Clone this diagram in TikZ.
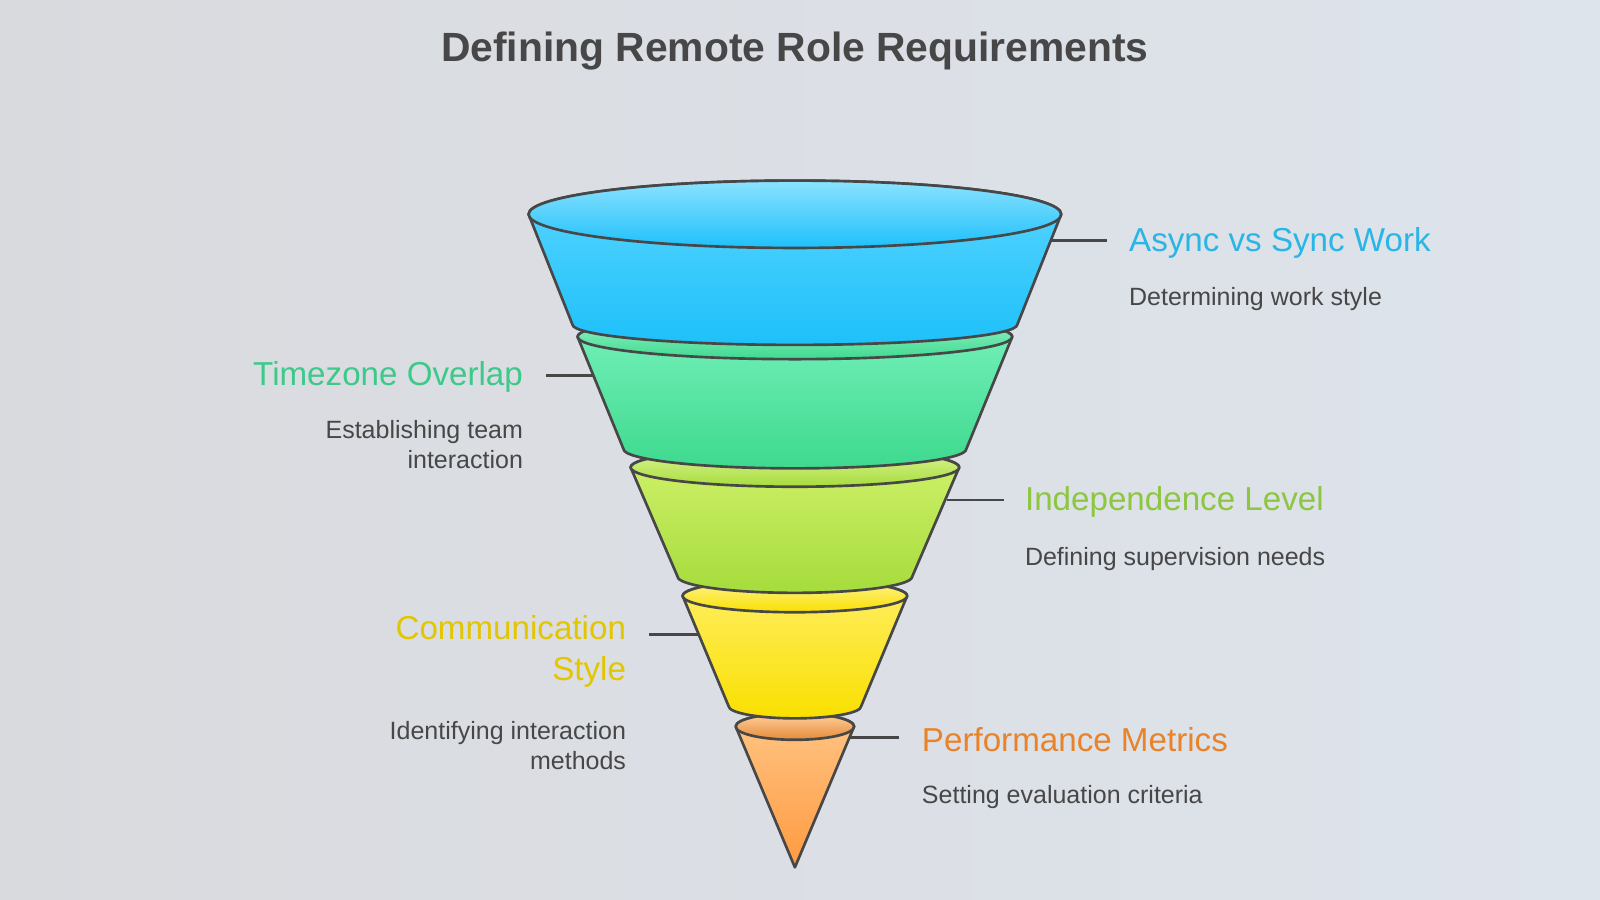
\documentclass[tikz,border=0pt]{standalone}
\usepackage{fontspec}
\setmainfont{Liberation Sans}
\begin{document}
\begin{tikzpicture}[x=1pt,y=1pt,
  ol/.style={draw=black!72,line width=2.6pt,line join=round},
  con/.style={draw=black!72,line width=2.6pt},
  head/.style={font=\fontsize{32.5}{40}\selectfont},
  desc/.style={font=\fontsize{24.5}{30}\selectfont,text=black!72}]
\definecolor{tb}{HTML}{29B5E5}\definecolor{tg}{HTML}{3CC98A}\definecolor{tl}{HTML}{8DC63F}
\definecolor{ty}{HTML}{E2C600}\definecolor{to}{HTML}{E8832A}
\useasboundingbox (0,0) rectangle (1568,-882);
\shade[left color={rgb,255:red,217;green,218;blue,222},right color={rgb,255:red,222;green,228;blue,236}] (0,0) rectangle (1568,-882);
\newcommand\funseg[8]{%
 \shade[ol,top color=#7,bottom color=#8] (779-#2,-#1) -- (779-#5,-#4) arc[start angle=180,end angle=360,x radius=#5,y radius=#6] -- (779+#2,-#1) arc[start angle=0,end angle=180,x radius=#2,y radius=#3] -- cycle;
 \shade[ol,top color=#7!70!white,bottom color=#8] (779,-#1) ellipse[x radius=#2,y radius=#3];}
\newcommand\funtip[5]{%
 \shade[ol,top color=#4,bottom color=#5] (779-#2,-#1) -- (779,-850) -- (779+#2,-#1) arc[start angle=0,end angle=180,x radius=#2,y radius=#3] -- cycle;
 \shade[ol,top color=#4!80!white,bottom color=#5!90!black] (779,-#1) ellipse[x radius=#2,y radius=#3];}
\definecolor{o1}{HTML}{FFC584}\definecolor{o2}{HTML}{FF9A40}
\definecolor{y1}{HTML}{FFEE66}\definecolor{y2}{HTML}{F9E000}
\definecolor{l1}{HTML}{D2F26C}\definecolor{l2}{HTML}{A6DC3C}
\definecolor{g1}{HTML}{78F2BC}\definecolor{g2}{HTML}{3ED98E}
\definecolor{b1}{HTML}{5AD6FF}\definecolor{b2}{HTML}{1EC0FA}
\funtip{712}{58}{13}{o1}{o2}
\funseg{584}{110}{16}{692}{65}{12}{y1}{y2}
\funseg{458}{161}{19}{565}{115}{16}{l1}{l2}
\funseg{330}{213}{22}{440}{168}{19}{g1}{g2}
\funseg{210}{261}{33}{318}{218}{20}{b1}{b2}
\node[font=\fontsize{40}{46}\selectfont\bfseries,text=black!72] (title) at (779,-50) {Defining Remote Role Requirements};
\coordinate (c1a) at (1030,-236); \coordinate (c1b) at (1085,-236);
\coordinate (c2a) at (582,-368); \coordinate (c2b) at (535,-368);
\coordinate (c3a) at (928,-490); \coordinate (c3b) at (984,-490);
\coordinate (c4a) at (685,-622); \coordinate (c4b) at (636,-622);
\coordinate (c5a) at (833,-723); \coordinate (c5b) at (881,-723);
\foreach \i in {1,...,5} \draw[con] (c\i a) -- (c\i b);
\node[head,text=tb,anchor=west] (h1) at (1103,-238) {Async vs Sync Work};
\node[desc,anchor=west] (d1) at (1103,-293) {Determining work style};
\node[head,text=tg,anchor=east] (h2) at (516,-369) {Timezone Overlap};
\node[desc,anchor=north east,align=right] (d2) at (516,-408) {Establishing team\\interaction};
\node[head,text=ty,anchor=north east,align=right] (h4) at (617,-600) {Communication\\Style};
\node[head,text=tl,anchor=west] (h3) at (1001,-492) {Independence Level};
\node[desc,anchor=west] (d3) at (1001,-548) {Defining supervision needs};
\node[desc,anchor=north east,align=right] (d4) at (617,-703) {Identifying interaction\\methods};
\node[head,text=to,anchor=west] (h5) at (900,-725) {Performance Metrics};
\node[desc,anchor=west] (d5) at (900,-781) {Setting evaluation criteria};
\end{tikzpicture}
\end{document}
